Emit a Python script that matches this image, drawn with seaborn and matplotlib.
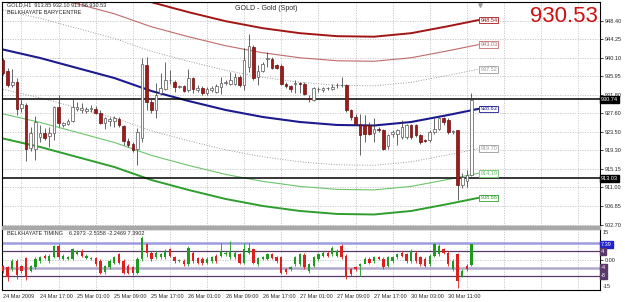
import matplotlib
matplotlib.use("Agg")
import matplotlib.pyplot as plt
from matplotlib.patches import Rectangle
import numpy as np
import pandas as pd
import seaborn as sns

# --- GOLD H1 candles (bar 0 = 24 Mar 2009 09:00) ---
opens = [939.6, 937.1, 934.0, 934.7, 928.8, 929.5, 919.8, 919.7, 922.3, 923.2,
         922.5, 923.2, 929.1, 925.0, 925.2, 925.9, 928.5, 928.3, 928.2, 928.5,
         928.6, 927.6, 925.4, 925.9, 925.9, 926.4, 924.7, 921.4, 920.8, 919.6,
         922.0, 938.4, 930.2, 928.3, 932.1, 933.0, 935.0, 934.7, 933.6, 933.7,
         932.8, 935.5, 932.8, 933.4, 932.1, 932.8, 932.4, 933.6, 934.5, 934.2,
         934.3, 935.8, 933.9, 938.1, 942.6, 935.8, 937.2, 939.9, 939.9, 938.4,
         938.3, 934.3, 933.7, 934.3, 934.4, 934.3, 931.0, 930.6, 933.0, 932.8,
         933.2, 933.0, 933.9, 933.9, 933.9, 928.3, 926.8, 925.3, 925.0, 925.0,
         923.2, 924.2, 923.8, 920.2, 922.9, 923.1, 922.3, 922.3, 925.0, 925.0,
         922.7, 921.6, 921.6, 923.5, 924.2, 926.5, 926.1, 923.5, 923.8, 911.5,
         912.5, 913.85]
highs = [940.0, 937.8, 937.5, 935.5, 931.0, 929.9, 924.5, 927.0, 925.0, 924.3,
         924.5, 929.2, 931.7, 925.7, 926.3, 931.0, 930.2, 930.0, 929.1, 929.5,
         929.3, 928.3, 926.7, 926.8, 927.1, 926.8, 925.0, 922.0, 921.2, 924.3,
         940.0, 940.2, 931.0, 934.4, 936.6, 939.2, 937.3, 935.1, 934.0, 934.0,
         937.6, 935.8, 934.0, 933.7, 933.6, 933.7, 934.3, 935.8, 935.1, 936.9,
         936.6, 936.2, 942.2, 945.4, 942.9, 938.4, 939.2, 941.4, 940.3, 938.8,
         938.8, 934.7, 934.0, 935.1, 934.7, 934.7, 931.7, 933.5, 933.6, 933.6,
         933.6, 934.3, 934.5, 935.8, 934.3, 928.7, 927.5, 927.5, 927.2, 925.7,
         926.5, 924.6, 924.2, 923.1, 923.8, 924.2, 926.1, 925.3, 925.3, 925.3,
         923.1, 921.9, 923.8, 926.5, 926.8, 926.8, 926.5, 923.9, 923.8, 914.2,
         915.0, 932.10]
lows = [936.2, 933.5, 933.5, 927.2, 928.0, 916.9, 919.2, 917.1, 921.2, 921.6,
        920.1, 921.6, 924.6, 924.6, 925.0, 925.7, 928.2, 927.7, 927.7, 927.9,
        927.4, 925.2, 924.2, 924.9, 924.6, 924.6, 920.5, 920.0, 918.9, 916.0,
        921.1, 928.3, 927.7, 926.5, 931.7, 932.8, 934.3, 932.4, 933.2, 932.5,
        932.5, 932.1, 932.5, 931.7, 931.7, 932.3, 932.1, 931.9, 934.0, 933.9,
        933.9, 933.6, 932.8, 937.0, 935.1, 933.9, 936.9, 938.1, 937.5, 937.5,
        933.9, 933.4, 932.5, 932.1, 932.1, 931.7, 930.2, 930.4, 932.5, 932.5,
        932.8, 932.8, 933.2, 933.6, 928.0, 926.1, 925.0, 918.2, 921.2, 922.7,
        921.2, 923.5, 919.3, 919.7, 922.3, 920.5, 921.9, 921.9, 921.9, 922.3,
        920.7, 921.2, 921.2, 923.1, 923.8, 925.0, 923.1, 923.0, 908.3, 910.8,
        911.0, 913.56]
closes = [936.6, 934.0, 934.6, 928.7, 929.7, 919.7, 923.2, 925.7, 923.2, 922.2,
          923.2, 929.0, 925.4, 925.5, 925.9, 929.0, 929.1, 928.9, 928.6, 928.8,
          927.6, 925.4, 926.5, 926.4, 926.5, 925.0, 921.4, 920.5, 919.3, 923.4,
          938.7, 930.2, 928.3, 931.7, 933.4, 935.1, 935.2, 933.6, 933.7, 932.7,
          935.5, 933.0, 933.3, 932.1, 933.0, 933.2, 933.7, 934.5, 934.6, 935.1,
          935.8, 933.9, 939.6, 942.7, 935.5, 937.1, 938.8, 940.0, 937.7, 937.9,
          934.2, 933.7, 933.0, 934.4, 934.3, 931.9, 930.8, 933.3, 933.1, 933.2,
          933.3, 933.6, 934.0, 934.0, 928.3, 926.8, 925.2, 922.7, 923.1, 923.1,
          924.2, 923.8, 919.7, 922.7, 923.5, 923.8, 924.6, 925.0, 922.3, 922.7,
          921.2, 921.5, 923.5, 924.2, 926.5, 925.7, 923.5, 923.7, 911.5, 913.3,
          913.7, 930.53]

# --- Belkhayate barycentre (centre line) and band end values ---
bary_bars = [0, 8, 16, 24, 32, 40, 48, 56, 64, 72, 80, 88, 96, 102.5]
bary_vals = [941.94, 940.04, 937.79, 935.55, 932.64, 930.40, 928.38, 926.81,
             925.69, 925.02, 924.90, 925.69, 927.26, 928.63]
band_labels = [948.54, 943.03, 937.52, 928.63, 919.70, 914.19, 908.68]
band_colors = ['#a31515', '#c06a6a', '#9a9a9a', '#1b1b8f', '#9a9a9a', '#6cc46c', '#2e9e2e']
band_widths = [1.4, 0.8, 0.7, 1.5, 0.7, 0.8, 1.4]
band_styles = ['-', '-', ':', '-', ':', '-', '-']

hlines = [930.74, 913.03]

# --- Belkhayate timing sub-window ---
t_open = [-3.1, -3.9, -4.8, -0.7, -3.1, 0.5, -5.6, -3.9, -0.7, 1.8,
          -0.7, 1.0, 6.7, 0.2, 0.2, 0.2, 2.6, 4.2, 0.5, 0.2,
          0.5, -0.7, -6.1, -3.9, -1.5, 2.6, -0.7, -3.1, -3.9, -6.4,
          0.2, 7.5, 3.4, 1.0, 1.0, 1.0, 5.0, 1.0, -0.7, -0.7,
          -2.3, 3.4, 0.5, 0.2, -1.5, -0.7, 1.8, 1.8, 2.6, 1.0,
          1.0, 2.6, -1.5, 3.4, 5.0, -2.3, 0.2, 0.2, 2.6, 1.0,
          1.0, -4.8, -4.8, -2.3, -2.3, 2.2, -5.6, -3.1, 0.2, 1.8,
          3.4, 2.6, 1.8, 6.7, 1.8, -4.8, -3.9, -3.1, -2.3, 0.2,
          -0.7, 1.0, 0.2, -3.1, -0.7, 1.0, 3.4, 2.6, -0.7, 3.4,
          1.0, 0.2, -2.3, 1.8, 2.6, 5.0, 3.4, -4.8, 2.6, -8.0,
          -3.1, -2.5]
t_close = [-5.6, -8.4, -0.7, -7.7, -5.6, -8.8, -3.1, 0.2, 1.0, 0.5,
           1.8, 6.7, 1.0, 1.8, 1.3, 5.0, 4.2, 1.5, 1.8, 0.8,
           -2.3, -6.4, -3.1, -0.7, 1.0, -1.5, -6.4, -6.4, -6.7, 0.2,
           10.8, 3.4, 0.2, 3.4, 2.6, 4.2, 1.8, -0.7, -0.2, -2.3,
           5.9, -0.7, -1.5, -1.8, 0.2, 1.0, -0.7, 4.2, 3.4, 4.2,
           3.4, -1.5, 5.0, 5.9, -1.5, 0.5, 1.0, 2.6, 0.5, -0.7,
           -6.4, -6.1, -3.9, 1.0, 2.6, -3.9, -2.3, 1.0, 2.6, 3.4,
           1.8, 5.9, 4.2, 1.0, -8.8, -7.2, -4.8, -2.3, 0.2, -1.5,
           1.3, 0.2, -3.9, 1.0, 1.0, 2.6, 1.8, -0.7, 4.2, -0.7,
           -2.3, -3.1, 1.8, 7.5, 6.7, 3.4, -2.3, -0.7, -10.5, -5.6,
           -4.8, 7.39]
t_high = [-2.5, -3.1, 0.2, 0.2, -2.5, 1.0, -2.5, 1.0, 1.8, 2.6,
          2.6, 7.2, 7.5, 2.6, 1.8, 5.9, 4.8, 5.0, 2.6, 1.3,
          1.0, 0.2, -2.5, 0.2, 1.8, 3.4, 0.2, -2.3, -3.1, 1.0,
          11.5, 8.3, 4.2, 4.2, 3.4, 5.0, 5.9, 1.8, 0.2, 0.2,
          6.7, 4.2, 1.0, 1.0, 1.0, 1.8, 2.6, 8.3, 4.2, 9.0,
          4.2, 3.4, 8.3, 8.3, 5.9, 1.0, 1.8, 3.4, 3.4, 1.8,
          1.8, -4.0, -3.1, 1.8, 3.4, 3.0, -1.5, 1.8, 3.4, 4.2,
          4.2, 6.7, 5.0, 7.5, 2.6, -4.0, -3.1, -1.5, 1.0, 1.0,
          1.8, 1.8, 1.0, 1.8, 1.8, 3.4, 4.2, 3.4, 5.0, 4.2,
          1.8, 1.0, 2.6, 8.3, 7.5, 5.9, 4.2, 0.2, 3.4, -4.8,
          -2.3, 7.39]
t_low = [-6.5, -10.5, -5.6, -9.5, -6.4, -10.0, -6.0, -4.8, -1.5, 0.2,
         -1.5, 0.5, 0.2, -0.3, -0.3, -0.3, 2.0, 1.0, 0.2, -0.3,
         -3.1, -7.2, -7.2, -4.8, -2.3, -2.3, -7.2, -7.2, -7.5, -7.2,
         -0.7, 1.0, -0.7, 0.2, 0.2, 0.2, 1.0, -1.5, -1.0, -3.1,
         -3.1, -1.5, -2.3, -2.6, -2.3, -1.5, -1.5, 1.0, 1.8, 0.2,
         0.2, -2.3, -2.3, 2.6, -2.3, -3.1, -0.3, -0.3, 0.2, -1.5,
         -7.2, -7.2, -5.6, -3.1, -3.1, -4.8, -6.4, -3.9, -0.7, 1.0,
         1.0, 1.8, 1.0, 0.2, -9.7, -8.0, -5.6, -8.0, -1.5, -2.3,
         -1.5, -0.3, -4.8, -3.9, -1.5, 0.2, 1.0, -1.5, -1.5, -1.5,
         -3.1, -3.9, -3.1, 1.0, 1.8, 2.6, -3.1, -5.6, -13.8, -8.8,
         -5.6, -3.1]
t_levels = [8, 4, -4, -8]
t_level_colors = ['#9c9ce0', '#5a3a6a', '#b0a8cc', '#5a3a6a']
t_level_widths = [1.8, 0.9, 1.8, 0.9]

# axis labels
main_ticks = [948.40, 944.25, 940.10, 935.95, 931.80, 927.60, 923.50,
              919.30, 915.15, 911.00, 906.85, 902.70]
time_bars = [0, 8, 16, 24, 32, 40, 48, 56, 64, 72, 80, 88, 96]
time_labels = ['24 Mar 2009', '24 Mar 17:00', '25 Mar 01:00', '25 Mar 09:00',
               '25 Mar 17:00', '26 Mar 01:00', '26 Mar 09:00', '26 Mar 17:00',
               '27 Mar 01:00', '27 Mar 09:00', '27 Mar 17:00', '30 Mar 03:00',
               '30 Mar 11:00']
grid_bars = [4, 12, 20, 28, 36, 44, 52, 60, 68, 76, 84, 92, 100, 108, 116, 124]

sns.set_style("white")
plt.rcParams['font.family'] = ['Liberation Sans', 'DejaVu Sans']

W, H = 625, 302
fig = plt.figure(figsize=(W / 100, H / 100), dpi=100)
ax = fig.add_axes([2 / W, 1 - 225.5 / H, 598 / W, 223.5 / H])
sub = fig.add_axes([2 / W, 1 - 290 / H, 598 / W, 61 / H])
fig.patches.append(Rectangle((2 / W, 1 - 229 / H), 598 / W, 3.5 / H,
                             transform=fig.transFigure, color='#a8a8a8', zorder=0))

XMIN, XMAX = -0.2, 128.7
grid_kw = dict(color='#c4c4c4', lw=0.6, ls=(0, (1.5, 1.5)), zorder=0)

# ---------- main window ----------
df = pd.DataFrame({'open': opens, 'high': highs, 'low': lows, 'close': closes})
df['bar'] = np.arange(len(df))
df['lo'] = df[['open', 'close']].min(axis=1)
df['h'] = (df['close'] - df['open']).abs()
up = df['close'] >= df['open']

for g in grid_bars:
    ax.axvline(g, **grid_kw)
for t in main_ticks:
    ax.axhline(t, **grid_kw)

centre = band_labels[3]
for lab, col, lw, ls in zip(band_labels, band_colors, band_widths, band_styles):
    vals = [v + lab - centre for v in bary_vals]
    sns.lineplot(x=bary_bars, y=vals, ax=ax, color=col, lw=lw, linestyle=ls, zorder=2)
    ax.text(102.9, lab, f"{lab:.2f}", fontsize=4.0, color=col, va='center', ha='left',
            bbox=dict(boxstyle='square,pad=0.15', fc='white', ec=col, lw=0.6), zorder=6)

for y in hlines:
    ax.axhline(y, color='black', lw=1.1, zorder=3)

ax.vlines(df['bar'], df['low'], df['high'], color='#3a3a3a', lw=0.55, zorder=4)
ax.bar(df.loc[up, 'bar'], df.loc[up, 'h'], bottom=df.loc[up, 'lo'], width=0.56,
       color='white', edgecolor='#555555', lw=0.5, zorder=5)
ax.bar(df.loc[~up, 'bar'], df.loc[~up, 'h'], bottom=df.loc[~up, 'lo'], width=0.56,
       color='#9e1b1b', edgecolor='#6e0e0e', lw=0.5, zorder=5)

ax.set_xlim(XMIN, XMAX)
ax.set_ylim(902.48, 952.59)
ax.set_xticks([])
ax.yaxis.tick_right()
ax.set_yticks(main_ticks, labels=[f"{t:.2f}" for t in main_ticks])
ax.tick_params(axis='y', length=2, width=0.6, pad=1.5, labelsize=4.0)
ax.set_xlabel('')
ax.set_ylabel('')
for s in ax.spines.values():
    s.set_color('black')
    s.set_linewidth(0.8)

for y in hlines:
    ax.text(1.002, y, f"{y:.2f}", transform=ax.get_yaxis_transform(), fontsize=4.0,
            color='white', va='center', ha='left',
            bbox=dict(boxstyle='square,pad=0.2', fc='black', ec='black'), zorder=7,
            clip_on=False)

ax.scatter([102.9], [0.985], transform=ax.get_xaxis_transform(), marker='v', s=6,
           color='#9a9a9a', zorder=7, clip_on=False)

# ---------- timing window ----------
tf = pd.DataFrame({'open': t_open, 'high': t_high, 'low': t_low, 'close': t_close})
tf['bar'] = np.arange(len(tf))
tf['lo'] = tf[['open', 'close']].min(axis=1)
tf['h'] = (tf['close'] - tf['open']).abs()
tup = tf['close'] >= tf['open']

for g in grid_bars:
    sub.axvline(g, **grid_kw)
sub.axhline(0, **grid_kw)
for lv, col, lw in zip(t_levels, t_level_colors, t_level_widths):
    sub.axhline(lv, color=col, lw=lw, zorder=1)

sub.vlines(tf.loc[tup, 'bar'], tf.loc[tup, 'low'], tf.loc[tup, 'high'], color='#1e9a1e', lw=0.6, zorder=3)
sub.vlines(tf.loc[~tup, 'bar'], tf.loc[~tup, 'low'], tf.loc[~tup, 'high'], color='#e01e1e', lw=0.6, zorder=3)
sub.bar(tf.loc[tup, 'bar'], tf.loc[tup, 'h'], bottom=tf.loc[tup, 'lo'], width=0.5,
        color='#1e9a1e', lw=0, zorder=4)
sub.bar(tf.loc[~tup, 'bar'], tf.loc[~tup, 'h'], bottom=tf.loc[~tup, 'lo'], width=0.5,
        color='#e01e1e', lw=0, zorder=4)

sub.set_xlim(XMIN, XMAX)
sub.set_ylim(-15, 15)
sub.yaxis.tick_right()
sub.set_yticks([0], labels=['0.00'])
sub.tick_params(axis='y', length=2, width=0.6, pad=1.5, labelsize=4.0)
sub.set_xticks(time_bars, labels=time_labels)
sub.tick_params(axis='x', length=2, width=0.6, pad=1.0, labelsize=4.0)
for lab in sub.get_xticklabels():
    lab.set_ha('left')
for s in sub.spines.values():
    s.set_color('black')
    s.set_linewidth(0.8)

ytr = sub.get_yaxis_transform()
sub.text(1.005, 14.5, '15', transform=ytr, fontsize=4.0, va='top', ha='left', clip_on=False)
sub.text(1.005, -14.5, '-15', transform=ytr, fontsize=4.0, va='bottom', ha='left', clip_on=False)
sub.text(1.002, t_close[-1], f"{t_close[-1]:.2f}", transform=ytr, fontsize=4.0, color='white',
         va='center', ha='left', bbox=dict(boxstyle='square,pad=0.2', fc='#2222cc', ec='#2222cc'),
         clip_on=False, zorder=7)
for lv in [4, -4, -8]:
    sub.text(1.002, lv, f"{lv}", transform=ytr, fontsize=4.0, color='white', va='center', ha='left',
             bbox=dict(boxstyle='square,pad=0.2', fc='#5a3a6a', ec='#5a3a6a'), clip_on=False, zorder=7)

# ---------- texts ----------
fig.text(7 / W, 1 - 4.5 / H, 'GOLD,H1  913.85 932.10 913.56 930.53', fontsize=4.0, va='center')
fig.text(7 / W, 1 - 13 / H, 'BELKHAYATE BARYCENTRE', fontsize=4.0, va='center')
fig.text(235 / W, 1 - 8 / H, 'GOLD - Gold (Spot)', fontsize=5, va='center')
fig.text(598 / W, 1 - 16 / H, '930.53', fontsize=16, color='#cc1111', va='center', ha='right')
fig.text(7 / W, 1 - 233.5 / H, 'BELKHAYATE TIMING    6.2973 -2.5358 -2.2469 7.3902',
         fontsize=4.0, va='center')

fig.savefig('out.png', dpi=100, facecolor='white')
